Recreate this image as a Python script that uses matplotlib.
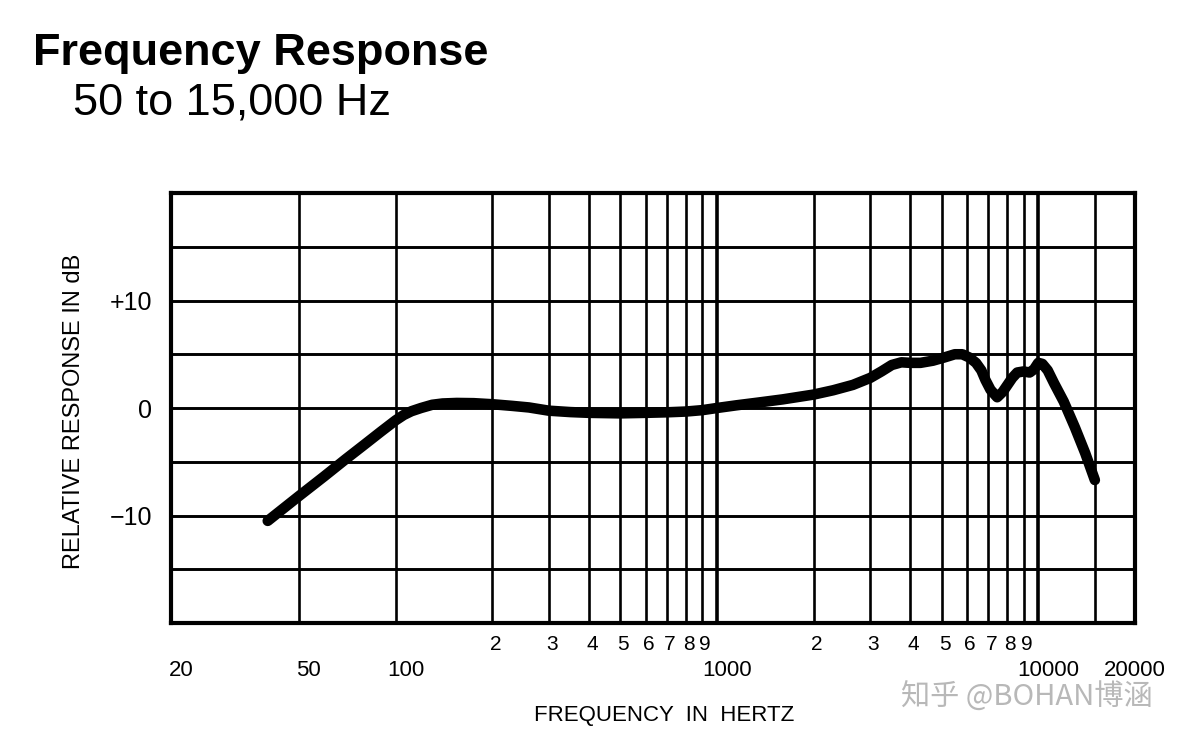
import matplotlib
matplotlib.use("Agg")
import matplotlib.pyplot as plt
import matplotlib.transforms as mtransforms

# ---------------- data ----------------
freq_hz = [40, 50, 60, 70, 80, 90, 100, 106, 112, 120, 130, 140, 155, 175,
           200, 230, 260, 300, 350, 400, 500, 600, 700, 800, 900, 1000,
           1150, 1340, 1600, 2000, 2300, 2650, 3000, 3250, 3500, 3750, 4000,
           4300, 4700, 5100, 5500, 5800, 6100, 6400, 6650, 6850, 7100, 7450,
           7750, 8000, 8300, 8600, 9000, 9400, 9700, 10000, 10300, 10700,
           11200, 12000, 13000, 14000, 15000]
response_db = [-10.5, -8.2, -6.35, -4.75, -3.4, -2.2, -1.15, -0.65, -0.3, 0.0,
               0.3, 0.42, 0.47, 0.45, 0.35, 0.2, 0.05, -0.25, -0.38, -0.45,
               -0.5, -0.45, -0.4, -0.33, -0.2, 0.0, 0.25, 0.5, 0.8, 1.25, 1.65,
               2.15, 2.8, 3.4, 4.0, 4.25, 4.2, 4.2, 4.4, 4.7, 5.0, 5.0, 4.7,
               4.2, 3.5, 2.6, 1.7, 1.0, 1.5, 2.1, 2.8, 3.3, 3.4, 3.3, 3.6,
               4.2, 4.1, 3.5, 2.3, 0.6, -1.8, -4.2, -6.7]

grid_freqs = [50, 100, 200, 300, 400, 500, 600, 700, 800, 900, 1000,
              2000, 3000, 4000, 5000, 6000, 7000, 8000, 9000, 10000, 15000]
bold_freqs = [1000, 10000]
grid_db = [-15, -10, -5, 0, 5, 10, 15]

ytick_vals = [10, 0, -10]
ytick_labels = ["+10", "0", "\u221210"]

major_ticks = [20, 50, 100, 1000, 10000, 20000]
major_labels = ["20", "50", "100", "1000", "10000", "20000"]
minor_ticks = [200, 300, 400, 500, 600, 700, 800, 900,
               2000, 3000, 4000, 5000, 6000, 7000, 8000, 9000]
minor_labels = ["2", "3", "4", "5", "6", "7", "8", "9",
                "2", "3", "4", "5", "6", "7", "8", "9"]

title = "Frequency Response"
subtitle = "50 to 15,000 Hz"
xlabel = "FREQUENCY  IN  HERTZ"
ylabel = "RELATIVE RESPONSE IN dB"
watermark = "知乎 @BOHAN博涵"

# ---------------- figure ----------------
W, H = 1192, 748
plt.rcParams["font.family"] = ["Liberation Sans", "DejaVu Sans"]
fig = plt.figure(figsize=(W / 100, H / 100), dpi=100)
fig.patch.set_facecolor("white")

L, R, T, B = 171, 1135, 193, 623
ax = fig.add_axes([L / W, 1 - B / H, (R - L) / W, (B - T) / H])
ax.set_xscale("log")
ax.set_xlim(20, 20000)
ax.set_ylim(-20, 20)

for f in grid_freqs:
    ax.axvline(f, color="black", lw=2.6 if f in bold_freqs else 1.9, zorder=1)
for d in grid_db:
    ax.axhline(d, color="black", lw=2.1, zorder=1)

for s in ax.spines.values():
    s.set_linewidth(3.0)
    s.set_color("black")

ax.plot(freq_hz, response_db, color="black", lw=7.6,
        solid_capstyle="round", solid_joinstyle="round", zorder=3)

# y ticks
ax.set_yticks(ytick_vals)
ax.set_yticklabels(ytick_labels, fontsize=18)
ax.tick_params(axis="y", length=0, pad=13.5)
ax.set_xticks([])
ax.set_xticks([], minor=True)

# x labels (two rows)
xform = ax.get_xaxis_transform()
for f, lab in zip(minor_ticks, minor_labels):
    tr = xform + mtransforms.ScaledTranslation(3 / 100, -21 / 100, fig.dpi_scale_trans)
    ax.text(f, 0, lab, transform=tr, ha="center", va="center", fontsize=15,
            clip_on=False)
for f, lab in zip(major_ticks, major_labels):
    dx = 0 if f == major_ticks[-1] else 10
    tr = xform + mtransforms.ScaledTranslation(dx / 100, -47 / 100, fig.dpi_scale_trans)
    ax.text(f, 0, lab, transform=tr, ha="center", va="center", fontsize=16,
            clip_on=False)

# titles & axis labels
fig.text(33 / W, 1 - 65.5 / H, title, fontsize=32.5, fontweight="bold",
         ha="left", va="baseline")
fig.text(73 / W, 1 - 115 / H, subtitle, fontsize=32.5, ha="left", va="baseline")
fig.text(74 / W, 1 - 411 / H, ylabel, fontsize=17, rotation=90,
         ha="center", va="center")
fig.text(664 / W, 1 - 716 / H, xlabel, fontsize=16, ha="center", va="center")
fig.text(1027 / W, 1 - 698 / H, watermark, fontsize=21, color="#b8b8b8",
         ha="center", va="center",
         family=["Noto Sans CJK SC", "DejaVu Sans"])

fig.savefig("out.png", dpi=100, facecolor="white")
